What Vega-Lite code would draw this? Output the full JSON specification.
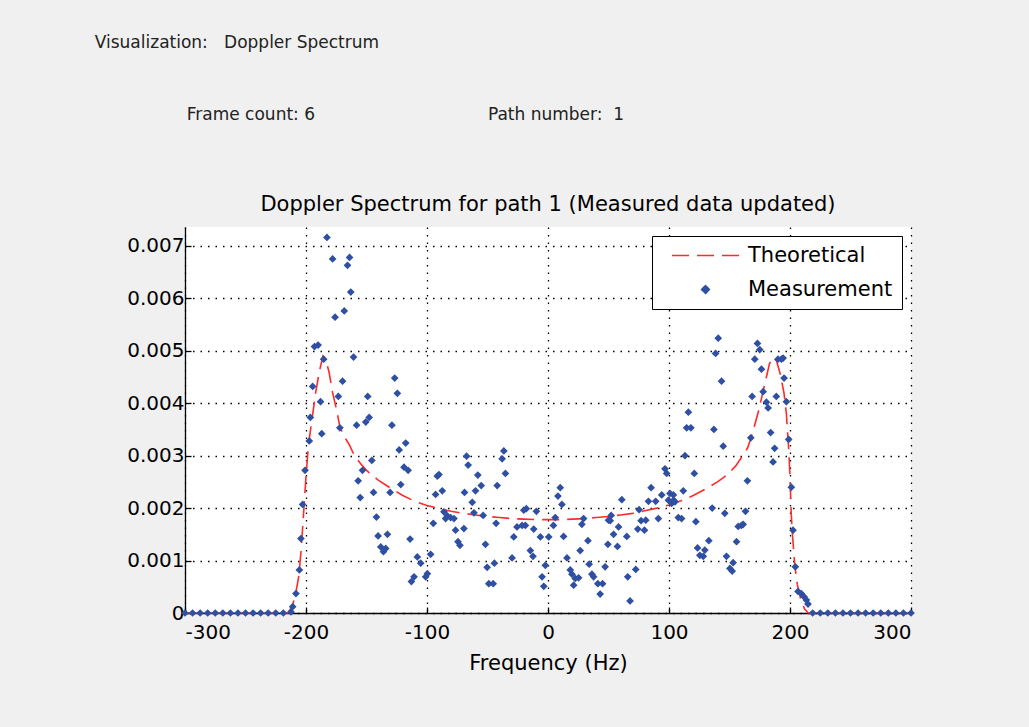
{
  "$schema": "https://vega.github.io/schema/vega-lite/v6.json",
  "background": "#f0f0f0",
  "padding": {"left": 94, "top": 34, "right": 150, "bottom": 58},
  "config": {
    "font": "DejaVu Sans",
    "view": {"fill": "white", "stroke": null},
    "axis": {
      "labelFontSize": 20, "labelColor": "black", "labelFont": "DejaVu Sans",
      "titleFontSize": 21, "titleFontWeight": "normal", "titleColor": "black", "titleFont": "DejaVu Sans",
      "domainColor": "black", "domainWidth": 1.3, "tickColor": "black", "tickSize": -6, "tickWidth": 1.3,
      "grid": true, "gridColor": "black", "gridOpacity": 1, "gridDash": [1.5, 6], "gridWidth": 1.3
    },
    "title": {"font": "DejaVu Sans"}
  },
  "title": {"text": "Visualization:\u00a0\u00a0\u00a0Doppler Spectrum", "anchor": "start", "fontSize": 17, "fontWeight": "normal", "color": "#222", "offset": 50, "dx": -32, "dy": -4},
  "datasets": {
    "theory": [
      {"f": -300, "v": 0}, {"f": -215, "v": 0}, {"f": -212, "v": 0.0001}, {"f": -209, "v": 0.0003}, {"f": -206, "v": 0.0007},
      {"f": -204, "v": 0.0012}, {"f": -202, "v": 0.0019}, {"f": -200, "v": 0.0026}, {"f": -198, "v": 0.0032}, {"f": -195, "v": 0.0037},
      {"f": -192, "v": 0.0042}, {"f": -189, "v": 0.0046}, {"f": -186, "v": 0.0049}, {"f": -184, "v": 0.00485}, {"f": -181, "v": 0.0046},
      {"f": -178, "v": 0.0042}, {"f": -175, "v": 0.0039}, {"f": -172, "v": 0.00355}, {"f": -168, "v": 0.00335}, {"f": -164, "v": 0.0032},
      {"f": -160, "v": 0.003}, {"f": -155, "v": 0.00285}, {"f": -150, "v": 0.00272}, {"f": -145, "v": 0.00262}, {"f": -140, "v": 0.00253},
      {"f": -130, "v": 0.00238}, {"f": -120, "v": 0.00224}, {"f": -110, "v": 0.00213}, {"f": -100, "v": 0.00205}, {"f": -90, "v": 0.00199},
      {"f": -80, "v": 0.00194}, {"f": -70, "v": 0.0019}, {"f": -60, "v": 0.00187}, {"f": -50, "v": 0.00184}, {"f": -40, "v": 0.00182},
      {"f": -30, "v": 0.0018}, {"f": -20, "v": 0.00179}, {"f": -10, "v": 0.00178}, {"f": 0, "v": 0.00178}, {"f": 10, "v": 0.00178},
      {"f": 20, "v": 0.00179}, {"f": 30, "v": 0.0018}, {"f": 40, "v": 0.00182}, {"f": 50, "v": 0.00184}, {"f": 60, "v": 0.00187},
      {"f": 70, "v": 0.0019}, {"f": 80, "v": 0.00195}, {"f": 90, "v": 0.002}, {"f": 100, "v": 0.00206}, {"f": 110, "v": 0.00214},
      {"f": 120, "v": 0.00224}, {"f": 130, "v": 0.00236}, {"f": 140, "v": 0.0025}, {"f": 145, "v": 0.00258}, {"f": 150, "v": 0.00268},
      {"f": 155, "v": 0.0028}, {"f": 160, "v": 0.00297}, {"f": 165, "v": 0.00315}, {"f": 168, "v": 0.00335}, {"f": 171, "v": 0.0036},
      {"f": 174, "v": 0.00385}, {"f": 177, "v": 0.00415}, {"f": 180, "v": 0.00445}, {"f": 183, "v": 0.00475}, {"f": 186, "v": 0.00488},
      {"f": 189, "v": 0.0048}, {"f": 192, "v": 0.00455}, {"f": 195, "v": 0.0042}, {"f": 197, "v": 0.0038}, {"f": 199, "v": 0.0031},
      {"f": 200, "v": 0.0026}, {"f": 201, "v": 0.0019}, {"f": 202, "v": 0.0015}, {"f": 204, "v": 0.0009}, {"f": 206, "v": 0.00055},
      {"f": 209, "v": 0.00025}, {"f": 212, "v": 0.00008}, {"f": 215, "v": 0}, {"f": 300, "v": 0}
    ],
    "meas": [
      {"f": -300, "v": 0}, {"f": -293.75, "v": 0}, {"f": -287.5, "v": 0}, {"f": -281.25, "v": 0}, {"f": -275, "v": 0},
      {"f": -268.75, "v": 0}, {"f": -262.5, "v": 0}, {"f": -256.25, "v": 0}, {"f": -250, "v": 0}, {"f": -243.75, "v": 0},
      {"f": -237.5, "v": 0}, {"f": -231.25, "v": 0}, {"f": -225, "v": 0}, {"f": -218.75, "v": 0},
      {"f": -212.4, "v": 0.00002}, {"f": -211, "v": 0.00012}, {"f": -208.3, "v": 0.00037}, {"f": -205.5, "v": 0.00082},
      {"f": -204.2, "v": 0.00142}, {"f": -202.8, "v": 0.00207}, {"f": -200.8, "v": 0.00272}, {"f": -197.3, "v": 0.00328},
      {"f": -196.4, "v": 0.00373}, {"f": -194.5, "v": 0.00432}, {"f": -193, "v": 0.00508}, {"f": -190, "v": 0.00511},
      {"f": -188, "v": 0.00403}, {"f": -187, "v": 0.00342}, {"f": -185.4, "v": 0.00484}, {"f": -182.7, "v": 0.00716},
      {"f": -178, "v": 0.00675}, {"f": -176, "v": 0.00564}, {"f": -173.3, "v": 0.00413}, {"f": -172, "v": 0.00353},
      {"f": -169.8, "v": 0.00442}, {"f": -168.4, "v": 0.00576}, {"f": -165.7, "v": 0.00663}, {"f": -164, "v": 0.00678},
      {"f": -163, "v": 0.00612}, {"f": -160.7, "v": 0.00488}, {"f": -158.2, "v": 0.00358}, {"f": -156.9, "v": 0.00252},
      {"f": -155.2, "v": 0.0022}, {"f": -153.3, "v": 0.00272}, {"f": -150.6, "v": 0.00364}, {"f": -149, "v": 0.00413},
      {"f": -147.8, "v": 0.00373}, {"f": -145.6, "v": 0.00291}, {"f": -144.2, "v": 0.0023}, {"f": -141.8, "v": 0.00183},
      {"f": -140.4, "v": 0.00147}, {"f": -138.2, "v": 0.00126}, {"f": -136, "v": 0.00117}, {"f": -134.1, "v": 0.00123},
      {"f": -132.7, "v": 0.0015}, {"f": -130.5, "v": 0.0023}, {"f": -129, "v": 0.00358}, {"f": -126.7, "v": 0.00448},
      {"f": -124.5, "v": 0.00419}, {"f": -123, "v": 0.00311}, {"f": -121.7, "v": 0.00245}, {"f": -119, "v": 0.00278},
      {"f": -117.6, "v": 0.00324}, {"f": -115.6, "v": 0.00272}, {"f": -114, "v": 0.00141}, {"f": -112.9, "v": 0.0006},
      {"f": -110.7, "v": 0.00069}, {"f": -108, "v": 0.00107}, {"f": -105.2, "v": 0.00095}, {"f": -101.1, "v": 0.00069},
      {"f": -99.7, "v": 0.00075}, {"f": -97, "v": 0.00112}, {"f": -94.8, "v": 0.00171}, {"f": -92.9, "v": 0.00226},
      {"f": -91.5, "v": 0.00261}, {"f": -90.1, "v": 0.00264}, {"f": -87.4, "v": 0.00233}, {"f": -86, "v": 0.00193},
      {"f": -84.6, "v": 0.0018}, {"f": -83.2, "v": 0.00185}, {"f": -80.5, "v": 0.00182}, {"f": -77.7, "v": 0.0018},
      {"f": -76.4, "v": 0.00158}, {"f": -74.4, "v": 0.00136}, {"f": -72.8, "v": 0.00129}, {"f": -69.5, "v": 0.00161},
      {"f": -69, "v": 0.0023}, {"f": -67.3, "v": 0.00299}, {"f": -66, "v": 0.00282}, {"f": -62.6, "v": 0.00211},
      {"f": -61.2, "v": 0.00191}, {"f": -59.9, "v": 0.00233}, {"f": -58, "v": 0.00263}, {"f": -55.2, "v": 0.00243},
      {"f": -53.6, "v": 0.00186}, {"f": -51.7, "v": 0.00131}, {"f": -50.3, "v": 0.00087}, {"f": -48.9, "v": 0.00056},
      {"f": -45.3, "v": 0.00056}, {"f": -44.3, "v": 0.00095}, {"f": -42.9, "v": 0.00171}, {"f": -42, "v": 0.00243},
      {"f": -37.9, "v": 0.00294}, {"f": -36.5, "v": 0.00309}, {"f": -35.2, "v": 0.00266}, {"f": -29.7, "v": 0.00105},
      {"f": -28.3, "v": 0.00145}, {"f": -25.6, "v": 0.00164}, {"f": -21.4, "v": 0.00167}, {"f": -20, "v": 0.00196},
      {"f": -18.7, "v": 0.00167}, {"f": -17.9, "v": 0.00199}, {"f": -14.6, "v": 0.00119}, {"f": -12.4, "v": 0.00108},
      {"f": -11.8, "v": 0.0016}, {"f": -9.6, "v": 0.00194}, {"f": -6.3, "v": 0.00145}, {"f": -4.9, "v": 0.00069},
      {"f": -3.5, "v": 0.00051}, {"f": -2.2, "v": 0.00091}, {"f": 0.6, "v": 0.00145}, {"f": 4.5, "v": 0.00167},
      {"f": 6, "v": 0.00182}, {"f": 8.2, "v": 0.00223}, {"f": 10.1, "v": 0.00239}, {"f": 11.5, "v": 0.00207},
      {"f": 12.9, "v": 0.00146}, {"f": 15.7, "v": 0.00105}, {"f": 18.4, "v": 0.00082}, {"f": 19.8, "v": 0.00074},
      {"f": 21.2, "v": 0.00053}, {"f": 22.5, "v": 0.00066}, {"f": 25.3, "v": 0.00067}, {"f": 26.6, "v": 0.00119},
      {"f": 28, "v": 0.00169}, {"f": 29.4, "v": 0.0018}, {"f": 33, "v": 0.00138}, {"f": 34, "v": 0.00093},
      {"f": 36.3, "v": 0.00074}, {"f": 37.7, "v": 0.00069}, {"f": 41.2, "v": 0.00056}, {"f": 43.1, "v": 0.00036},
      {"f": 45.1, "v": 0.00056}, {"f": 47.2, "v": 0.00088}, {"f": 49.5, "v": 0.00131}, {"f": 50, "v": 0.00177},
      {"f": 51.4, "v": 0.00176}, {"f": 52.2, "v": 0.00186}, {"f": 54.2, "v": 0.0015}, {"f": 57.4, "v": 0.00127},
      {"f": 58.3, "v": 0.00164}, {"f": 61, "v": 0.00216}, {"f": 65.1, "v": 0.00146}, {"f": 65.9, "v": 0.00069},
      {"f": 67.8, "v": 0.00023}, {"f": 72.5, "v": 0.00083}, {"f": 74.2, "v": 0.0016}, {"f": 75.3, "v": 0.00197},
      {"f": 76.9, "v": 0.00176}, {"f": 79.7, "v": 0.00158}, {"f": 80.8, "v": 0.00177}, {"f": 83, "v": 0.00213},
      {"f": 85.2, "v": 0.00239}, {"f": 89, "v": 0.00213}, {"f": 91.2, "v": 0.0018}, {"f": 94, "v": 0.00225},
      {"f": 96.7, "v": 0.00275}, {"f": 98.1, "v": 0.00266}, {"f": 99.5, "v": 0.00215}, {"f": 100.8, "v": 0.00228},
      {"f": 102.2, "v": 0.00209}, {"f": 103.6, "v": 0.00225}, {"f": 103.8, "v": 0.00215}, {"f": 105, "v": 0.00212},
      {"f": 107.7, "v": 0.00182}, {"f": 110.4, "v": 0.0018}, {"f": 111.8, "v": 0.00233}, {"f": 113.2, "v": 0.003},
      {"f": 114.6, "v": 0.00353}, {"f": 116, "v": 0.00383}, {"f": 118.1, "v": 0.00353}, {"f": 120.9, "v": 0.00266},
      {"f": 122.2, "v": 0.00174}, {"f": 123.6, "v": 0.00124}, {"f": 125.5, "v": 0.0011}, {"f": 128.3, "v": 0.00108},
      {"f": 129.6, "v": 0.0012}, {"f": 132.9, "v": 0.00138}, {"f": 135.7, "v": 0.002}, {"f": 137.1, "v": 0.0035},
      {"f": 138.5, "v": 0.00495}, {"f": 140.7, "v": 0.00524}, {"f": 143.4, "v": 0.00442}, {"f": 144.8, "v": 0.00318},
      {"f": 146.1, "v": 0.0019}, {"f": 147.5, "v": 0.00108}, {"f": 150.3, "v": 0.00085}, {"f": 152.2, "v": 0.0008},
      {"f": 153, "v": 0.00096}, {"f": 155.8, "v": 0.00136}, {"f": 157.2, "v": 0.00165}, {"f": 159.9, "v": 0.00167},
      {"f": 161.3, "v": 0.00169}, {"f": 163.2, "v": 0.00194}, {"f": 164.8, "v": 0.00252}, {"f": 167.6, "v": 0.00334},
      {"f": 168.7, "v": 0.00413}, {"f": 170.9, "v": 0.00484}, {"f": 173.1, "v": 0.00514}, {"f": 175, "v": 0.00502},
      {"f": 176.4, "v": 0.00465}, {"f": 177.8, "v": 0.00422}, {"f": 180.5, "v": 0.00402}, {"f": 181.9, "v": 0.00391},
      {"f": 184, "v": 0.00344}, {"f": 186, "v": 0.00288}, {"f": 187.3, "v": 0.00314}, {"f": 188.7, "v": 0.00413},
      {"f": 190.1, "v": 0.00484}, {"f": 192.9, "v": 0.00484}, {"f": 194.3, "v": 0.00486}, {"f": 195.1, "v": 0.00448},
      {"f": 197, "v": 0.00403}, {"f": 198.9, "v": 0.00331}, {"f": 201.1, "v": 0.0024}, {"f": 202.5, "v": 0.00158},
      {"f": 204.4, "v": 0.00088}, {"f": 206.6, "v": 0.00041}, {"f": 209.3, "v": 0.00037}, {"f": 211.6, "v": 0.00031},
      {"f": 213.5, "v": 0.00025}, {"f": 214.9, "v": 0.00017},
      {"f": 218.75, "v": 0}, {"f": 225, "v": 0}, {"f": 231.25, "v": 0}, {"f": 237.5, "v": 0}, {"f": 243.75, "v": 0},
      {"f": 250, "v": 0}, {"f": 256.25, "v": 0}, {"f": 262.5, "v": 0}, {"f": 268.75, "v": 0}, {"f": 275, "v": 0},
      {"f": 281.25, "v": 0}, {"f": 287.5, "v": 0}, {"f": 293.75, "v": 0}, {"f": 300, "v": 0}
    ]
  },
  "vconcat": [
    {
      "title": {"text": "Frame count: 6\u00a0\u00a0\u00a0\u00a0\u00a0\u00a0\u00a0\u00a0\u00a0\u00a0\u00a0\u00a0\u00a0\u00a0\u00a0\u00a0\u00a0\u00a0\u00a0\u00a0\u00a0\u00a0\u00a0\u00a0\u00a0\u00a0\u00a0\u00a0\u00a0\u00a0\u00a0\u00a0Path number:\u00a0\u00a01", "anchor": "start", "fontSize": 17, "fontWeight": "normal", "color": "#222", "offset": 70, "dx": 60},
      "vconcat": [
        {
          "width": 726,
          "height": 386,
          "title": {"text": "Doppler Spectrum for path 1 (Measured data updated)", "fontSize": 21, "fontWeight": "normal", "color": "black", "offset": 12, "anchor": "middle"},
          "layer": [
            {
              "data": {"name": "theory"},
              "mark": {"type": "line", "strokeDash": [17, 8], "strokeWidth": 1.6, "interpolate": "linear"},
              "encoding": {
                "x": {"field": "f", "type": "quantitative", "scale": {"domain": [-300, 300], "nice": false},
                      "axis": {"title": "Frequency (Hz)", "values": [-300, -200, -100, 0, 100, 200, 300], "labelPadding": 15, "titlePadding": 10,
                               "labelExpr": "datum.value < 0 ? '-' + abs(datum.value) : '' + datum.value"}},
                "y": {"field": "v", "type": "quantitative", "scale": {"domain": [0, 0.00736], "nice": false},
                      "axis": {"title": null, "values": [0, 0.001, 0.002, 0.003, 0.004, 0.005, 0.006, 0.007], "labelPadding": 7,
                               "labelExpr": "datum.value == 0 ? '0' : format(datum.value, '.3f')"}},
                "color": {"datum": "Theoretical", "type": "nominal",
                  "scale": {"domain": ["Theoretical", "Measurement"], "range": ["#ff2a2a", "#2f4fa3"]},
                  "legend": {
                    "title": null, "orient": "top-right", "offset": 9,
                    "fillColor": "white", "strokeColor": "black", "padding": 9,
                    "labelFontSize": 21, "labelColor": "black", "labelFont": "DejaVu Sans",
                    "symbolSize": 900, "symbolOffset": 34, "labelOffset": 32, "rowPadding": 12,
                    "encode": {"symbols": {"update": {
                      "shape": {"signal": "datum.value === 'Theoretical' ? 'stroke' : 'diamond'"},
                      "size": {"signal": "datum.value === 'Theoretical' ? 4489 : 60"},
                      "fill": {"signal": "datum.value === 'Theoretical' ? 'transparent' : '#2f4fa3'"},
                      "stroke": {"signal": "datum.value === 'Theoretical' ? '#ff2a2a' : 'transparent'"},
                      "strokeDash": {"signal": "datum.value === 'Theoretical' ? [17, 8] : [1, 0]"},
                      "strokeWidth": {"value": 1.6},
                      "opacity": {"value": 1}
                    }}}
                  }}
              }
            },
            {
              "data": {"name": "meas"},
              "mark": {"type": "point", "shape": "diamond", "filled": true, "size": 60, "opacity": 1},
              "encoding": {
                "x": {"field": "f", "type": "quantitative"},
                "y": {"field": "v", "type": "quantitative"},
                "color": {"datum": "Measurement", "type": "nominal"}
              }
            }
          ]
        }
      ]
    }
  ]
}
